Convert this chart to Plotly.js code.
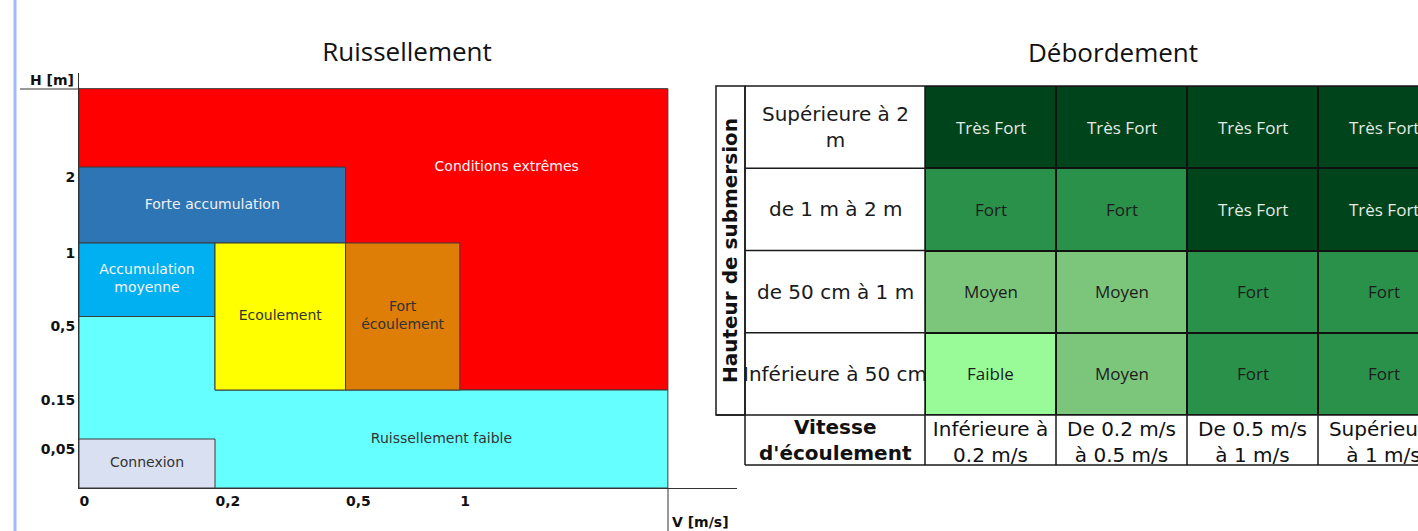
<!DOCTYPE html>
<html>
<head>
<meta charset="utf-8">
<script src="https://cdn.plot.ly/plotly-3.0.1.min.js"></script>
<style>html,body{margin:0;padding:0;background:#fff;}#chart{width:1418px;height:531px;}</style>
</head>
<body>
<div id="chart"></div>
<script>
// ---------------- DATA ----------------
// Left chart: hazard zones for runoff (velocity V [m/s] vs depth H [m])
const vTickValues = [0, 0.2, 0.5, 1];
const vTickLabels = ['0', '0,2', '0,5', '1'];
const hTickValues = [0.05, 0.15, 0.5, 1, 2];
const hTickLabels = ['0,05', '0.15', '0,5', '1', '2'];

const zoneNames = ['Conditions extrêmes', 'Ruissellement faible', 'Forte accumulation',
                   'Accumulation moyenne', 'Ecoulement', 'Fort écoulement', 'Connexion'];
const zoneLabels = ['Conditions extrêmes', 'Ruissellement faible', 'Forte accumulation',
                    'Accumulation<br>moyenne', 'Ecoulement', 'Fort<br>écoulement', 'Connexion'];
// polygon vertices of each zone in real units (Infinity = open-ended class)
const zonePolyV = [
  [0, Infinity, Infinity, 0],
  [0, Infinity, Infinity, 0.2, 0.2, 0],
  [0, 0.5, 0.5, 0],
  [0, 0.2, 0.2, 0],
  [0.2, 0.5, 0.5, 0.2],
  [0.5, 1, 1, 0.5],
  [0, 0.2, 0.2, 0]
];
const zonePolyH = [
  [0.15, 0.15, Infinity, Infinity],
  [0, 0, 0.15, 0.15, 0.5, 0.5],
  [1, 1, 2, 2],
  [0.5, 0.5, 1, 1],
  [0.15, 0.15, 1, 1],
  [0.15, 0.15, 1, 1],
  [0, 0, 0.05, 0.05]
];

// Right chart: hazard level grid for overflow
const hazardLevels = ['Faible', 'Moyen', 'Fort', 'Très Fort'];
const velocityClasses = ['Inférieure à<br>0.2 m/s', 'De 0.2 m/s<br>à 0.5 m/s', 'De 0.5 m/s<br>à 1 m/s', 'Supérieure<br>à 1 m/s'];
const depthClasses = ['Supérieure à 2<br>m', 'de 1 m à 2 m', 'de 50 cm à 1 m', 'Inférieure à 50 cm'];
const hazardAbove2m = ['Très Fort', 'Très Fort', 'Très Fort', 'Très Fort'];
const hazard1to2m = ['Fort', 'Fort', 'Très Fort', 'Très Fort'];
const hazard50cmTo1m = ['Moyen', 'Moyen', 'Fort', 'Fort'];
const hazardBelow50cm = ['Faible', 'Moyen', 'Fort', 'Fort'];

// ---------------- STYLE / LAYOUT ----------------
const W = 1418, H = 531;
const px = x => x / W;
const py = y => 1 - y / H;

const zoneColors = ['#ff0000', '#66ffff', '#2e75b6', '#00b0f0', '#ffff00', '#de7e06', '#d9e0f1'];
const zoneTextColors = ['#f4f4f4', '#333333', '#f0f0f0', '#f4f4f4', '#333333', '#333333', '#333333'];
const levelColors = ['#98fb98', '#7cc67c', '#2a914b', '#00441b'];
const levelTextColors = ['#1c1c1c', '#1c1c1c', '#1c1c1c', '#e4ebe4'];

// schematic (non-linear) scale of the left chart
const vKnots = [0, 0.2, 0.5, 1], vKnotPos = [0, 1, 1.96, 2.8], vInfPos = 4.33;
const hKnots = [0, 0.05, 0.15, 0.5, 1, 2], hKnotPos = [0, 1, 2, 3.5, 5, 6.55], hInfPos = 8.15;
function piecewise(val, knots, pos, inf) {
  if (val === Infinity) return inf;
  for (let i = 0; i < knots.length - 1; i++) {
    if (val <= knots[i + 1]) return pos[i] + (val - knots[i]) / (knots[i + 1] - knots[i]) * (pos[i + 1] - pos[i]);
  }
  return pos[pos.length - 1];
}
const vPos = v => piecewise(v, vKnots, vKnotPos, vInfPos);
const hPos = h => piecewise(h, hKnots, hKnotPos, hInfPos);

const FONT = 'DejaVu Sans, Verdana, sans-serif';
const traces = [];

// zone polygons
zoneNames.forEach((name, i) => {
  const xs = zonePolyV[i].map(vPos); xs.push(xs[0]);
  const ys = zonePolyH[i].map(hPos); ys.push(ys[0]);
  traces.push({
    type: 'scatter', mode: 'lines', x: xs, y: ys, fill: 'toself',
    fillcolor: zoneColors[i], line: {color: '#3a3a3a', width: 1},
    name: name, hoverinfo: 'skip', showlegend: false, xaxis: 'x', yaxis: 'y'
  });
});

// zone labels (anchor = centre of the zone's visible box)
const labelBox = zoneNames.map((n, i) => {
  let v0 = Math.min(...zonePolyV[i]), v1 = Math.max(...zonePolyV[i]);
  let h0 = Math.min(...zonePolyH[i]), h1 = Math.max(...zonePolyH[i]);
  if (n === 'Ruissellement faible') { v0 = 0.2; h1 = 0.15; }
  if (n === 'Conditions extrêmes') { v0 = 0.5; h0 = 2; h1 = 2; }
  return {x: (vPos(v0) + vPos(v1)) / 2, y: (hPos(h0) + hPos(h1)) / 2};
});
traces.push({
  type: 'scatter', mode: 'text', x: labelBox.map(b => b.x), y: labelBox.map(b => b.y),
  text: zoneLabels, textposition: 'middle center',
  textfont: {family: FONT, size: 14, color: zoneTextColors},
  hoverinfo: 'skip', showlegend: false, xaxis: 'x', yaxis: 'y'
});

// right grid
const hazardRows = [hazardAbove2m, hazard1to2m, hazard50cmTo1m, hazardBelow50cm];
traces.push({
  type: 'heatmap', x: velocityClasses, y: depthClasses,
  z: hazardRows.map(r => r.map(l => hazardLevels.indexOf(l))),
  zmin: 0, zmax: 3,
  colorscale: levelColors.map((c, i) => [i / (levelColors.length - 1), c]),
  showscale: false, xgap: 2, ygap: 2, hoverinfo: 'skip', xaxis: 'x2', yaxis: 'y2'
});

// table geometry (pixels)
const T = {left: 716, titleW: 29, labelW: 180, top: 86, rowH: 82.25, footH: 50, colW: 131};
const labL = T.left + T.titleW, labR = labL + T.labelW;
const gridBottom = T.top + 4 * T.rowH, footBottom = gridBottom + T.footH;
const LINE = {color: '#1a1a1a', width: 1.5};
const pline = (x0, y0, x1, y1, line) => ({type: 'line', xref: 'paper', yref: 'paper',
  x0: px(x0), y0: py(y0), x1: px(x1), y1: py(y1), line: line || LINE});

const shapes = [
  // slide decoration bar
  pline(15, 0, 15, H, {color: '#a3b8ff', width: 3}),
  // axis-title separators of the left chart
  pline(20, 89, 79, 89, {color: '#333', width: 1}),
  pline(668, 488, 668, 531, {color: '#333', width: 1}),
  // black underlay giving the grid lines of the heatmap
  {type: 'rect', xref: 'x2 domain', yref: 'y2 domain', x0: 0, x1: 1, y0: 0, y1: 1,
   fillcolor: '#111', line: {width: 0}, layer: 'below'},
  // title column
  {type: 'rect', xref: 'paper', yref: 'paper', x0: px(T.left), x1: px(labL), y0: py(T.top), y1: py(gridBottom),
   line: LINE, fillcolor: 'rgba(0,0,0,0)'},
  pline(labL, T.top, W, T.top),
  pline(T.left, gridBottom, W, gridBottom),
  pline(labL, footBottom, W, footBottom),
  pline(labL, T.top, labL, footBottom),
  pline(labR, T.top, labR, footBottom)
];
for (let i = 1; i < 4; i++) shapes.push(pline(labL, T.top + i * T.rowH, labR, T.top + i * T.rowH));
for (let i = 0; i < velocityClasses.length; i++) {
  shapes.push({type: 'line', xref: 'x2', yref: 'paper', x0: i + 0.5, x1: i + 0.5,
               y0: py(gridBottom), y1: py(footBottom), line: LINE});
}

const ann = (text, x, y, font, extra) => Object.assign({text: text, xref: 'paper', yref: 'paper',
  x: px(x), y: py(y), xanchor: 'center', yanchor: 'middle', showarrow: false, font: font}, extra || {});
const annotations = [
  ann('Débordement', 1113, 52, {family: 'Open Sans, sans-serif', size: 26, color: '#111'}),
  ann('H [m]', 52, 80, {family: FONT, size: 14, color: '#111', weight: 'bold'}),
  ann('V [m/s]', 670, 522, {family: FONT, size: 14, color: '#111', weight: 'bold'}, {xanchor: 'left'}),
  ann('Hauteur de submersion', (T.left + labL) / 2, (T.top + gridBottom) / 2,
      {family: FONT, size: 20, color: '#111', weight: 'bold'}, {textangle: -90}),
  ann('Vitesse<br>d\'écoulement', (labL + labR) / 2, (gridBottom + footBottom) / 2,
      {family: FONT, size: 20, color: '#111', weight: 'bold'})
];
depthClasses.forEach(d => annotations.push({
  text: d, xref: 'paper', yref: 'y2', x: px((labL + labR) / 2), y: d, xanchor: 'center', yanchor: 'middle',
  showarrow: false, font: {family: FONT, size: 20, color: '#1a1a1a'}
}));
// hazard level written in each cell of the grid
hazardRows.forEach((r, ri) => r.forEach((l, ci) => annotations.push({
  text: l, xref: 'x2', yref: 'y2', x: velocityClasses[ci], y: depthClasses[ri],
  xanchor: 'center', yanchor: 'middle', showarrow: false,
  font: {family: 'Open Sans, sans-serif', size: 17, color: levelTextColors[hazardLevels.indexOf(l)]}
})));

const layout = {
  width: W, height: H, margin: {l: 0, r: 0, t: 0, b: 0},
  paper_bgcolor: '#fff', plot_bgcolor: 'rgba(0,0,0,0)', showlegend: false,
  title: {text: 'Ruissellement', x: px(407), y: py(52), xref: 'paper', yref: 'paper',
          xanchor: 'center', yanchor: 'middle', font: {family: 'Open Sans, sans-serif', size: 26, color: '#111'}},
  xaxis: {domain: [px(79), px(737)], range: [0, (737 - 79) / 136], showgrid: false, zeroline: false,
          showline: true, linecolor: '#333', linewidth: 1, ticks: '',
          tickvals: vTickValues.map(vPos), ticktext: vTickLabels, ticklabelposition: 'outside right',
          tickfont: {family: FONT, size: 14, color: '#111', weight: 'bold'}, fixedrange: true, anchor: 'y'},
  yaxis: {domain: [py(488), py(73)], range: [0, (488 - 73) / 49], showgrid: false, zeroline: false,
          showline: true, linecolor: '#333', linewidth: 1, ticks: '',
          tickvals: hTickValues.map(hPos), ticktext: hTickLabels, ticklabelposition: 'outside bottom',
          tickfont: {family: FONT, size: 14, color: '#111', weight: 'bold'}, fixedrange: true, anchor: 'x'},
  xaxis2: {domain: [px(labR), 1], type: 'category', range: [-0.5, 3.5 - (labR + 4 * T.colW - W) / T.colW],
           showgrid: false, zeroline: false, showline: false, ticks: '', anchor: 'y2',
           tickfont: {family: FONT, size: 20, color: '#111'}, fixedrange: true},
  yaxis2: {domain: [py(gridBottom), py(T.top)], type: 'category', categoryorder: 'array', categoryarray: depthClasses,
           range: [3.5, -0.5], showgrid: false, zeroline: false, showline: false, showticklabels: false,
           ticks: '', anchor: 'x2', fixedrange: true},
  shapes: shapes,
  annotations: annotations
};

Plotly.newPlot('chart', traces, layout, {displayModeBar: false, staticPlot: true});
</script>
</body>
</html>
